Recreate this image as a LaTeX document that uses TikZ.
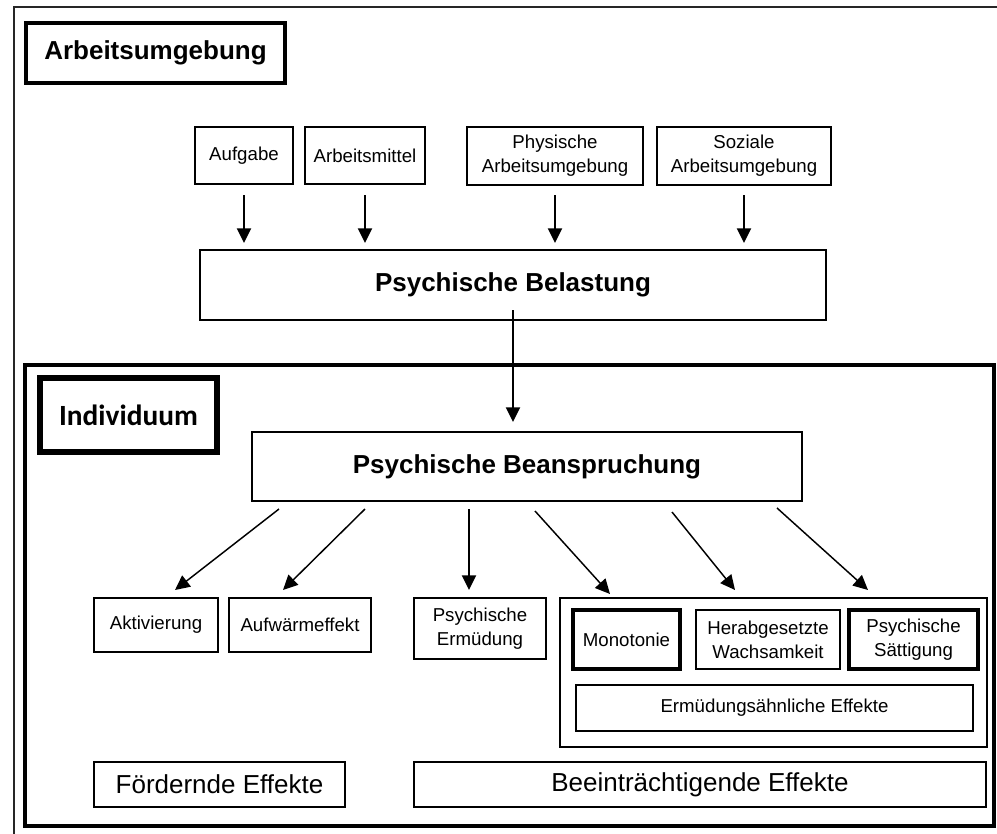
\documentclass[tikz,border=0pt]{standalone}
\usepackage{fontspec}
\setmainfont{Liberation Sans}
\newfontfamily\calibri{Carlito}
\usepackage{tikz}
\usetikzlibrary{arrows.meta}
\tikzstyle{titre} = [rectangle, draw=black, line width=2.3pt, outer sep=0pt, text centered, font=\fontsize{19.5}{23}\selectfont\bfseries]
\tikzstyle{block} = [rectangle, draw=black, line width=2pt, outer sep=0pt, inner sep=0pt, align=center, font=\fontsize{14}{18}\selectfont]
\tikzstyle{block2} = [rectangle, draw=black, line width=2pt, outer sep=0pt, text centered, font=\fontsize{19.5}{23}\selectfont\bfseries]
\tikzstyle{effet} = [rectangle, draw=black, line width=1.8pt, outer sep=0pt, text centered, font=\fontsize{19.5}{23}\selectfont]
\tikzstyle{arrow} = [line width=1.6pt, -{Triangle[length=11pt,width=10.5pt]}]
\tikzstyle{arrow2} = [line width=1.1pt, -{Triangle[length=11pt,width=10.5pt]}]

\begin{document}
\begin{tikzpicture}[x=0.75pt, y=-0.75pt]
        \useasboundingbox (0,0) rectangle (997,833);
        % frames
        \draw [line width=1.5pt, black!85] (14,7) rectangle (1020,860);
        \draw [line width=3pt] (25,365) rectangle (994,826);

        \node (umgebung) [titre, minimum width=194.25pt, minimum height=45pt] at (155.5,53) {Arbeitsumgebung};
        \node (aufgabe) [block, minimum width=73.5pt, minimum height=42.75pt] at (244,155.5) {Aufgabe};
        \node (mittel) [block, minimum width=90pt, minimum height=42.75pt] at (365,155.5) {Arbeitsmittel};
        \node (physisch) [block, minimum width=132pt, minimum height=43.5pt] at (555,156) {Physische\\Arbeitsumgebung};
        \node (sozial) [block, minimum width=130.5pt, minimum height=43.5pt] at (744,156) {Soziale\\Arbeitsumgebung};
        \node (belastung) [block2, minimum width=469.5pt, minimum height=52.5pt] at (513,285) {Psychische Belastung};

        \node (individuum) [titre, line width=3.8pt, minimum width=132.75pt, minimum height=55.5pt, font=\calibri\fontsize{22}{26}\selectfont\bfseries] at (128.5,415) {Individuum};
        \node (beanspr) [block2, minimum width=412.5pt, minimum height=51.75pt] at (527,466.5) {Psychische Beanspruchung};

        \node (aktiv) [block, minimum width=93pt, minimum height=40.5pt] at (156,625) {Aktivierung};
        \node (aufwaerm) [block, minimum width=106.5pt, minimum height=40.5pt] at (300,625) {Aufwärmeffekt};
        \node (ermued) [block, minimum width=99pt, minimum height=45.75pt] at (480,628.5) {Psychische\\Ermüdung};
        \node (gruppe) [block, line width=1.5pt, minimum width=320.25pt, minimum height=111.75pt] at (773.5,672.5) {};
        \node (monotonie) [block, line width=2.8pt, minimum width=80.25pt, minimum height=44.25pt] at (626.5,639.5) {Monotonie};
        \node (wachsam) [block, minimum width=108pt, minimum height=44.25pt] at (768,639.5) {Herabgesetzte\\Wachsamkeit};
        \node (saettig) [block, line width=2.8pt, minimum width=96.75pt, minimum height=44.25pt] at (913.5,639.5) {Psychische\\Sättigung};
        \node (aehnlich) [block, minimum width=297.75pt, minimum height=34.5pt] at (774.5,708) {Ermüdungsähnliche Effekte};

        \node (foerdernd) [effet, minimum width=188.25pt, minimum height=33.75pt] at (219.5,784.5) {Fördernde Effekte};
        \node (beeintr) [effet, minimum width=429pt, minimum height=33.75pt] at (700,784.5) {Beeinträchtigende Effekte};

        \draw [arrow] ([shift={(0,11)}]aufgabe.south) -- ([shift={(0,-7)}]aufgabe.south |- belastung.north);
        \draw [arrow] ([shift={(0,11)}]mittel.south) -- ([shift={(0,-7)}]mittel.south |- belastung.north);
        \draw [arrow] ([shift={(0,10)}]physisch.south) -- ([shift={(0,-7)}]physisch.south |- belastung.north);
        \draw [arrow] ([shift={(0,10)}]sozial.south) -- ([shift={(0,-7)}]sozial.south |- belastung.north);
        \draw [arrow] ([shift={(0,-10)}]belastung.south) -- ([shift={(0,-10)}]belastung.south |- beanspr.north);
        \draw [arrow2] ([shift={(-248,8)}]beanspr.south) -- ([shift={(19,-8)}]aktiv.north);
        \draw [arrow2] ([shift={(-162,8)}]beanspr.south) -- ([shift={(-17,-8)}]aufwaerm.north);
        \draw [arrow] ([shift={(-58,8)}]beanspr.south) -- ([shift={(-58,-8)}]beanspr.south |- ermued.north);
        \draw [arrow2] ([shift={(8,10)}]beanspr.south) -- ([shift={(-163.5,-4)}]gruppe.north);
        \draw [arrow2] ([shift={(145,11)}]beanspr.south) -- ([shift={(-38.5,-8)}]gruppe.north);
        \draw [arrow2] ([shift={(250,7)}]beanspr.south) -- ([shift={(94.5,-8)}]gruppe.north);
\end{tikzpicture}
\end{document}
